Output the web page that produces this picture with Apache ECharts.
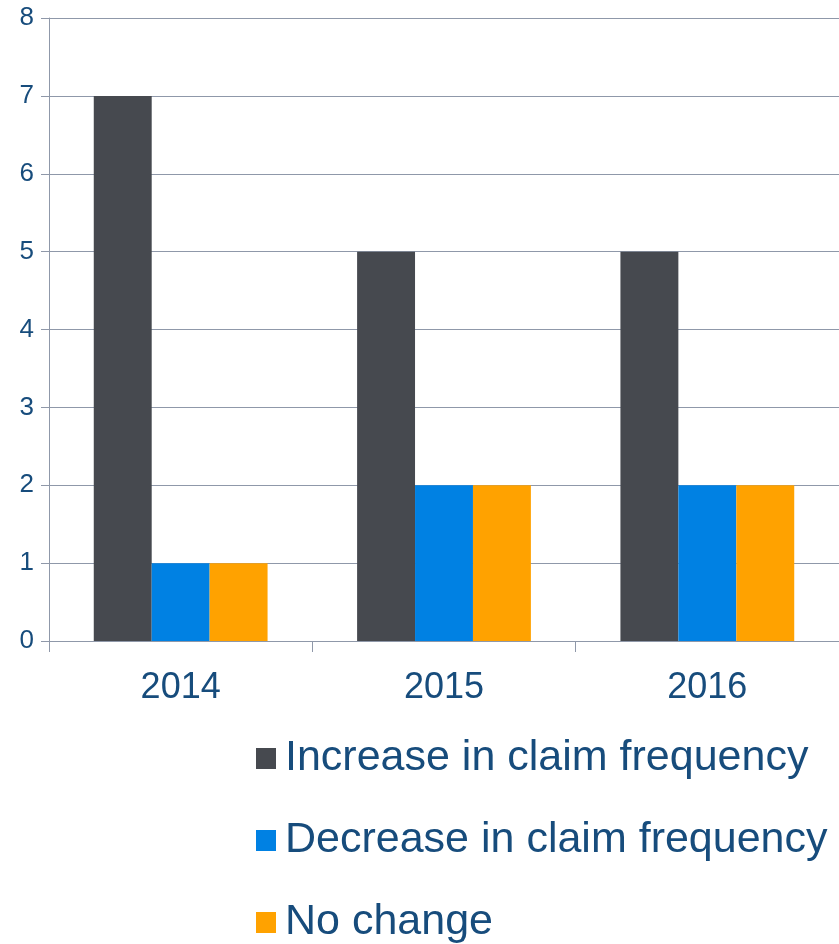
<!DOCTYPE html>
<html>
<head>
<meta charset="utf-8">
<script src="https://cdn.jsdelivr.net/npm/echarts@6/dist/echarts.min.js"></script>
<style>
  html, body { margin: 0; padding: 0; background: #fff; }
  #chart { width: 839px; height: 944px; }
</style>
</head>
<body>
<div id="chart"></div>
<script>
const years = ['2014', '2015', '2016']
const increase = [7, 5, 5]
const decrease = [1, 2, 2]
const noChange = [1, 2, 2]
const seriesNames = ['Increase in claim frequency', 'Decrease in claim frequency', 'No change']

const textColor = '#174c7c'
const lineColor = '#8f98a9'
const font = 'Liberation Sans, Arial, sans-serif'

const chart = echarts.init(document.getElementById('chart'))

chart.setOption({
  animation: false,
  color: ['#46494f', '#0081e3', '#ffa200'],
  grid: {
    left: 49,
    right: -4,
    top: 18,
    bottom: 303,
    containLabel: false,
  },
  legend: {
    orient: 'vertical',
    left: 256,
    top: 737,
    padding: 0,
    itemWidth: 20,
    itemHeight: 21,
    itemGap: 39,
    icon: 'rect',
    textStyle: {
      fontFamily: font,
      fontSize: 43,
      lineHeight: 42,
      color: textColor,
      padding: [0, 0, 0, 4],
    },
    data: seriesNames,
  },
  xAxis: {
    type: 'category',
    data: years,
    axisLine: { lineStyle: { color: lineColor, width: 1 } },
    axisTick: { show: true, alignWithLabel: false, length: 11, lineStyle: { color: lineColor } },
    axisLabel: {
      margin: 29,
      fontFamily: font,
      fontSize: 36,
      color: textColor,
    },
  },
  yAxis: {
    type: 'value',
    min: 0,
    max: 8,
    interval: 1,
    axisLine: { show: true, lineStyle: { color: lineColor, width: 1 } },
    axisTick: { show: true, inside: false, length: 8, lineStyle: { color: lineColor } },
    splitLine: { lineStyle: { color: lineColor, width: 1 } },
    axisLabel: {
      margin: 15,
      fontFamily: font,
      fontSize: 26,
      color: textColor,
    },
  },
  series: [
    {
      name: seriesNames[0],
      type: 'bar',
      data: increase,
      barGap: '0%',
      barCategoryGap: '34%',
    },
    {
      name: seriesNames[1],
      type: 'bar',
      data: decrease,
    },
    {
      name: seriesNames[2],
      type: 'bar',
      data: noChange,
    },
  ],
})
</script>
</body>
</html>
